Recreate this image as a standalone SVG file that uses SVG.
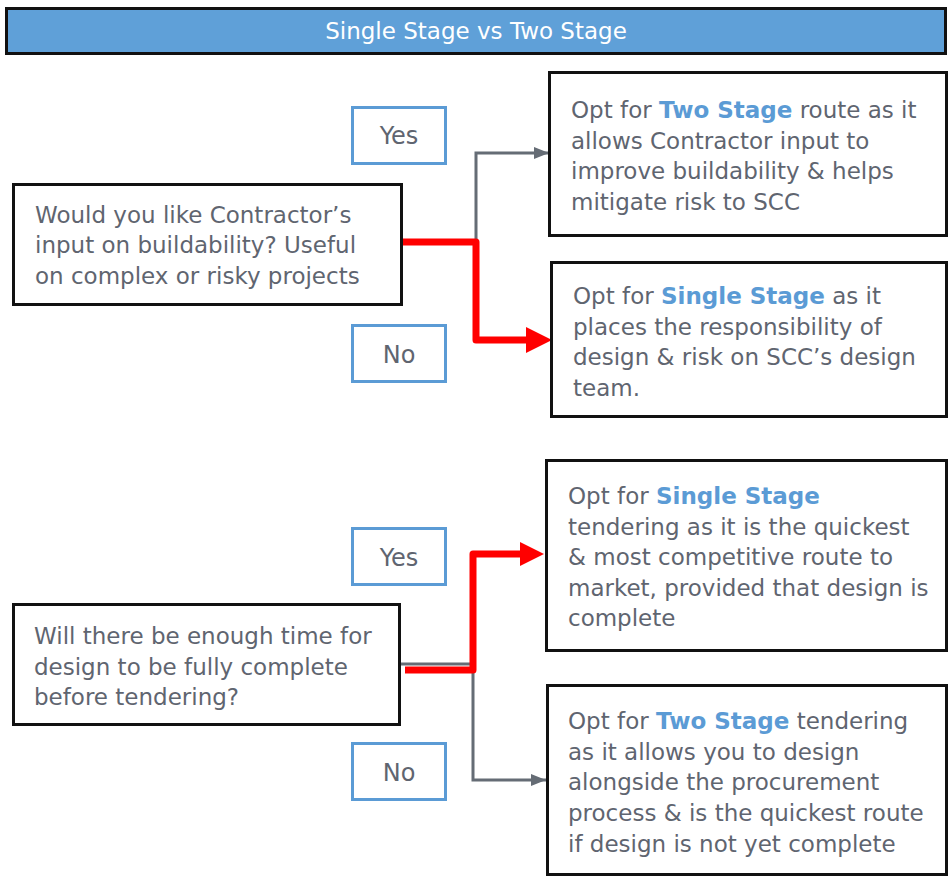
<svg xmlns="http://www.w3.org/2000/svg" width="951" height="876" viewBox="0 0 951 876">
  <style>
    .box { fill: #ffffff; stroke: #111111; stroke-width: 3; }
    .tag { fill: #ffffff; stroke: #5b9bd5; stroke-width: 3; }
    .txt { font-family: "DejaVu Sans", Verdana, sans-serif; font-size: 23px; fill: #5f6570; }
    .hl { font-weight: bold; fill: #5b9bd5; }
    .tagtxt { font-family: "DejaVu Sans", Verdana, sans-serif; font-size: 24px; fill: #5f6570; text-anchor: middle; }
    .title { font-family: "DejaVu Sans", Verdana, sans-serif; font-size: 23px; fill: #ffffff; text-anchor: middle; }
    .grey { fill: none; stroke: #656c75; stroke-width: 3; }
    .red { fill: none; stroke: #ff0000; stroke-width: 7; stroke-linejoin: round; }
  </style>
  <defs>
    <marker id="arrGrey" markerUnits="userSpaceOnUse" markerWidth="16" markerHeight="14" refX="15" refY="7" orient="auto">
      <path d="M0,1 L15,7 L0,13 Z" fill="#656c75"/>
    </marker>
  </defs>

  <!-- title bar -->
  <g id="title">
    <rect x="6.5" y="8.5" width="939" height="45" fill="#5fa0d8" stroke="#111111" stroke-width="3"/>
    <text class="title" x="476" y="39">Single Stage vs Two Stage</text>
  </g>

  <!-- connectors -->
  <g id="connectors">
    <path class="grey" d="M476,242 V153 H549" marker-end="url(#arrGrey)"/>
    <path class="red" d="M401,242 H476 V340 H528"/>
    <path d="M526,327 L552,340 L526,353 Z" fill="#ff0000"/>
    <path class="grey" d="M400,664 H473 V780 H546" marker-end="url(#arrGrey)"/>
    <path class="red" d="M405,670 H473 V554 H522"/>
    <path d="M520,542 L544,554 L520,566 Z" fill="#ff0000"/>
  </g>

  <!-- question 1 -->
  <g id="q1">
    <rect class="box" x="13.5" y="184.5" width="388" height="120"/>
    <text class="txt" x="35" y="223">Would you like Contractor’s</text>
    <text class="txt" x="35" y="253">input on buildability? Useful</text>
    <text class="txt" x="35" y="284">on complex or risky projects</text>
  </g>
  <g id="q1-yes">
    <rect class="tag" x="352.5" y="107.5" width="93" height="56"/>
    <text class="tagtxt" x="399" y="144">Yes</text>
  </g>
  <g id="q1-no">
    <rect class="tag" x="352.5" y="325.5" width="93" height="56"/>
    <text class="tagtxt" x="399" y="363">No</text>
  </g>
  <g id="a1-two-stage">
    <rect class="box" x="549.5" y="72.5" width="397" height="163"/>
    <text class="txt" x="571" y="118">Opt for <tspan class="hl">Two Stage</tspan> route as it</text>
    <text class="txt" x="571" y="149">allows Contractor input to</text>
    <text class="txt" x="571" y="179">improve buildability &amp; helps</text>
    <text class="txt" x="571" y="210">mitigate risk to SCC</text>
  </g>
  <g id="a1-single-stage">
    <rect class="box" x="551.5" y="262.5" width="395" height="154"/>
    <text class="txt" x="573" y="304">Opt for <tspan class="hl">Single Stage</tspan> as it</text>
    <text class="txt" x="573" y="335">places the responsibility of</text>
    <text class="txt" x="573" y="365">design &amp; risk on SCC’s design</text>
    <text class="txt" x="573" y="396">team.</text>
  </g>

  <!-- question 2 -->
  <g id="q2">
    <rect class="box" x="13.5" y="604.5" width="386" height="120"/>
    <text class="txt" x="34" y="644">Will there be enough time for</text>
    <text class="txt" x="34" y="675">design to be fully complete</text>
    <text class="txt" x="34" y="705">before tendering?</text>
  </g>
  <g id="q2-yes">
    <rect class="tag" x="352.5" y="528.5" width="93" height="56"/>
    <text class="tagtxt" x="399" y="566">Yes</text>
  </g>
  <g id="q2-no">
    <rect class="tag" x="352.5" y="743.5" width="93" height="56"/>
    <text class="tagtxt" x="399" y="781">No</text>
  </g>
  <g id="a2-single-stage">
    <rect class="box" x="546.5" y="460.5" width="400" height="190"/>
    <text class="txt" x="568" y="504">Opt for <tspan class="hl">Single Stage</tspan></text>
    <text class="txt" x="568" y="535">tendering as it is the quickest</text>
    <text class="txt" x="568" y="565">&amp; most competitive route to</text>
    <text class="txt" x="568" y="596">market, provided that design is</text>
    <text class="txt" x="568" y="626">complete</text>
  </g>
  <g id="a2-two-stage">
    <rect class="box" x="547.5" y="685.5" width="399" height="189"/>
    <text class="txt" x="568" y="729">Opt for <tspan class="hl">Two Stage</tspan> tendering</text>
    <text class="txt" x="568" y="760">as it allows you to design</text>
    <text class="txt" x="568" y="790">alongside the procurement</text>
    <text class="txt" x="568" y="821">process &amp; is the quickest route</text>
    <text class="txt" x="568" y="852">if design is not yet complete</text>
  </g>
</svg>
